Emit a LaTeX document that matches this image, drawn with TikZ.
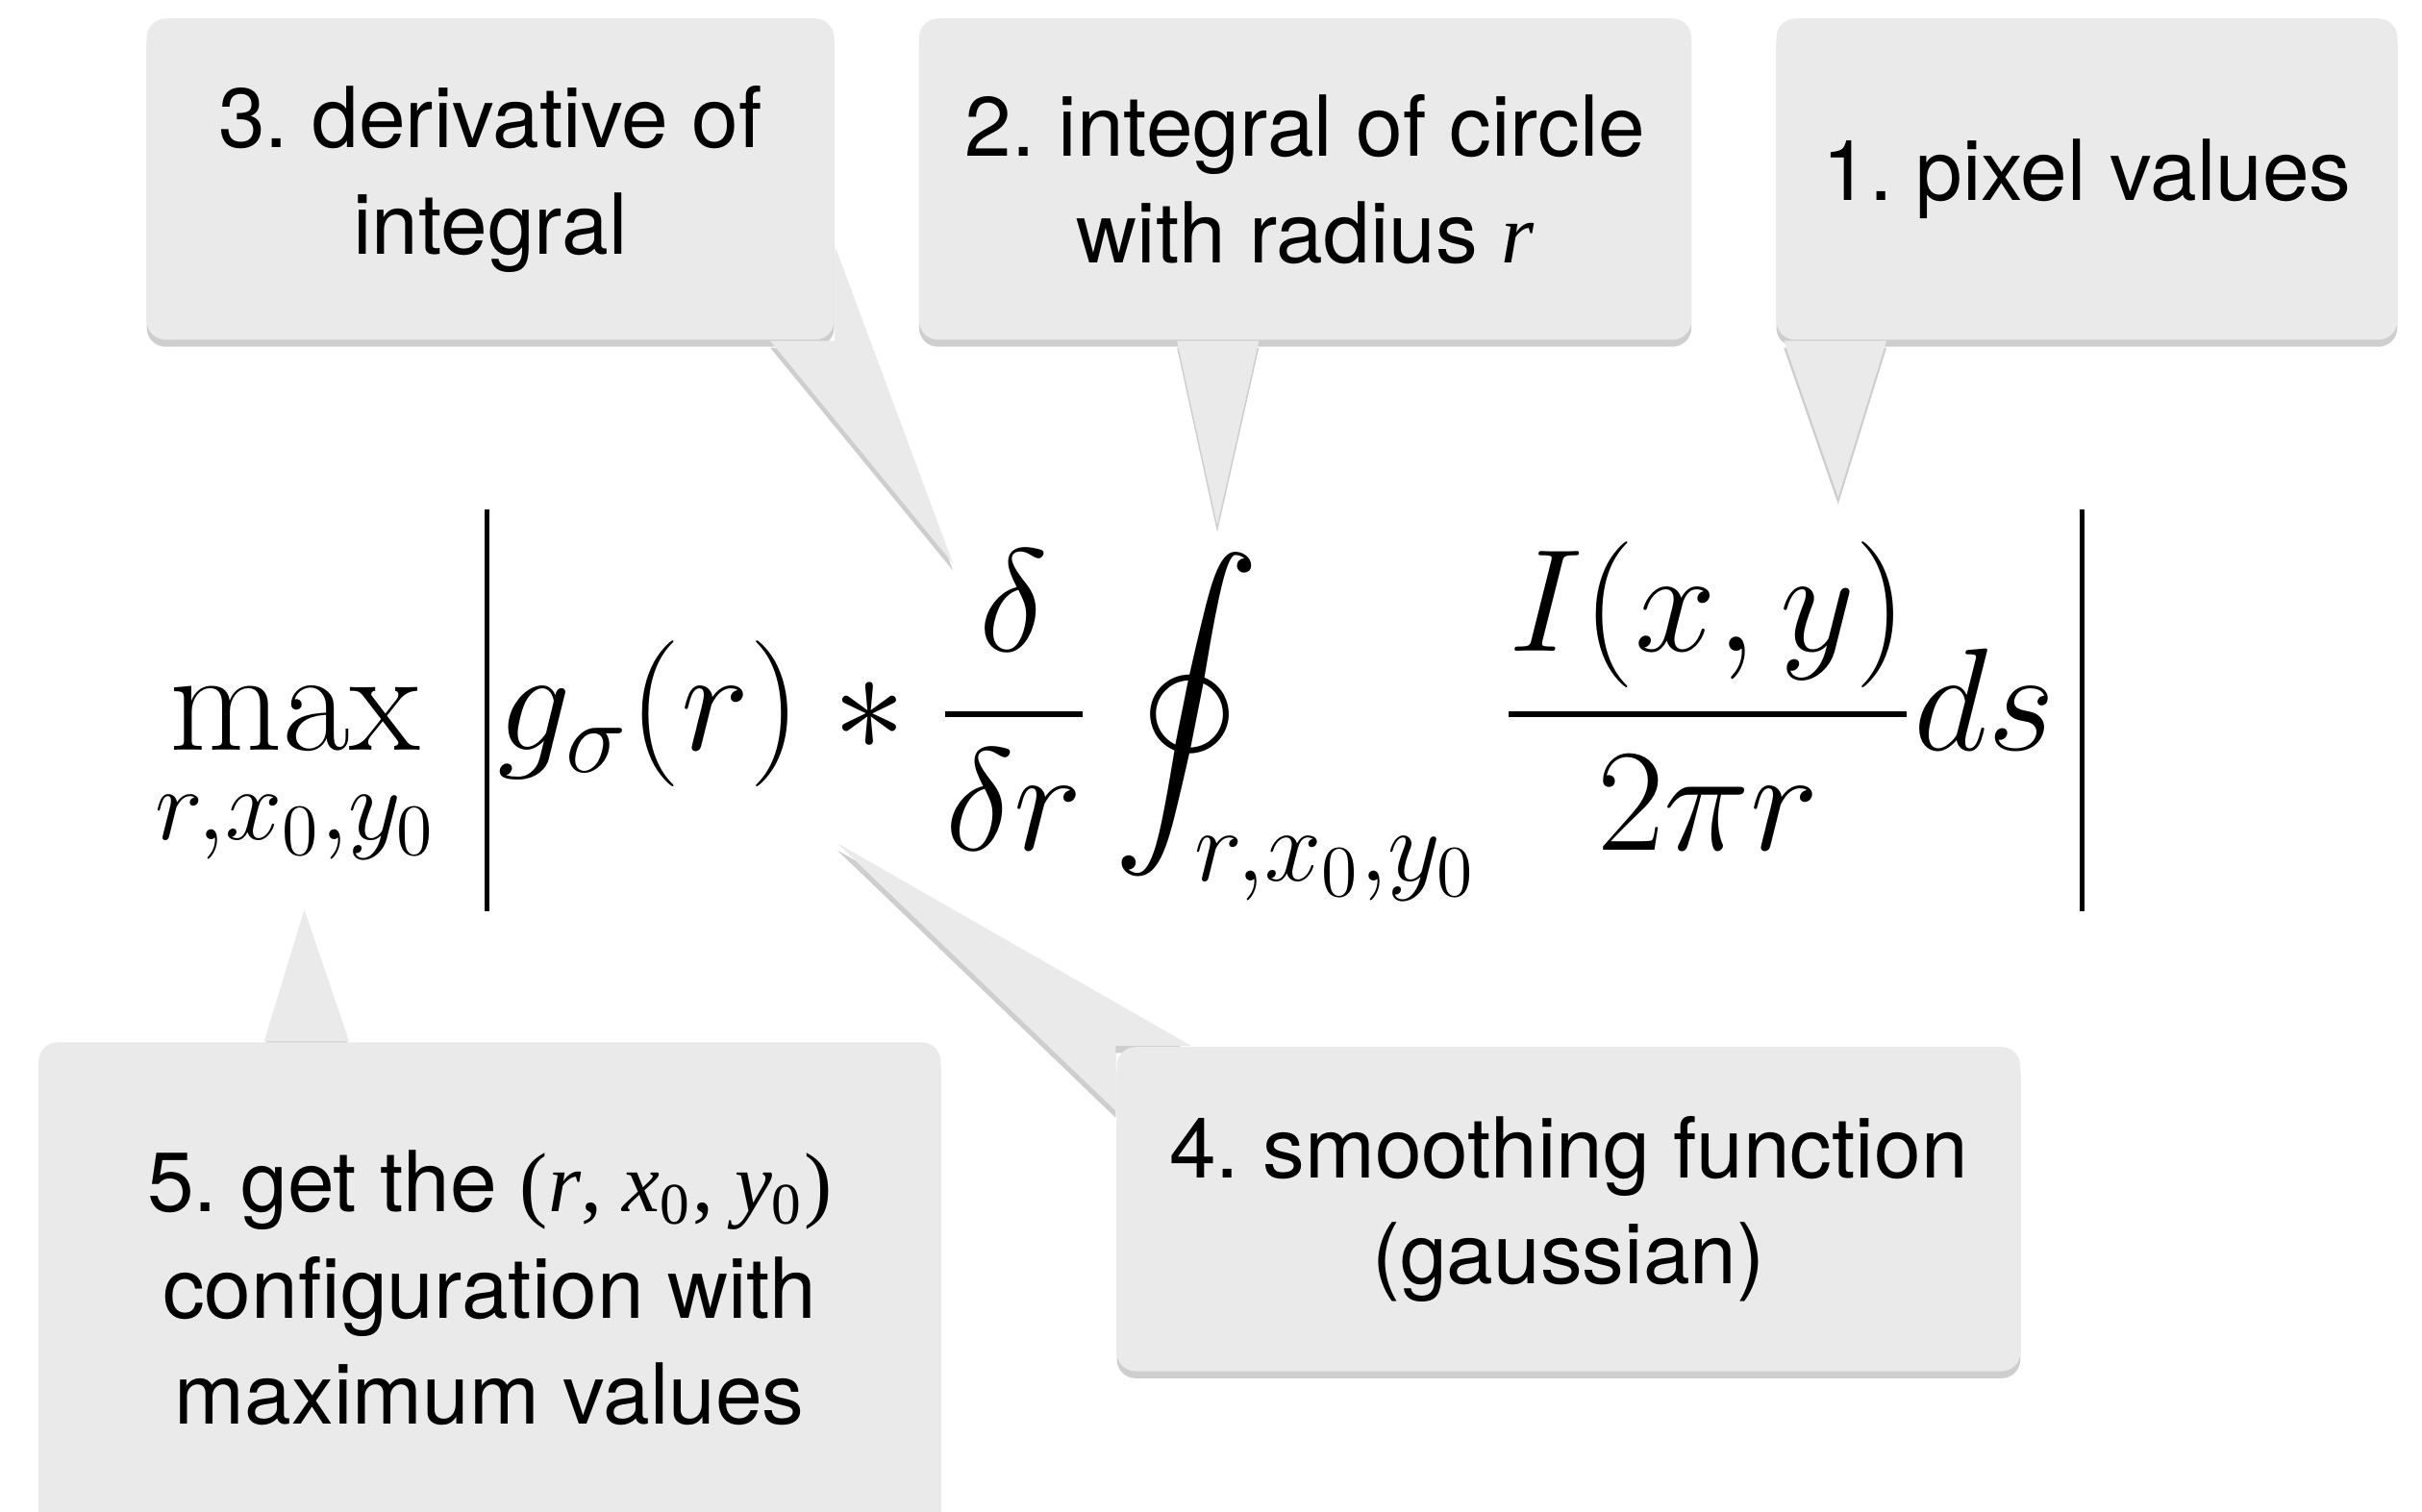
\RequirePackage{fix-cm}
\documentclass[tikz,border=0pt]{standalone}
\usepackage{amsmath,amssymb}
\usepackage{fontspec}
\usepackage{tikz}
\usetikzlibrary{calc,shadows,backgrounds}
\newfontfamily\calloutfont{TeX Gyre Heros}
\newfontfamily\varfont{Liberation Serif}
\newcommand{\cvar}[1]{{\varfont\itshape #1}}
\newcommand{\absbar}{\mathord{\vrule width 0.95pt height 1.56cm depth 1.04cm}}
\definecolor{bubblegray}{RGB}{234,234,234}
\tikzset{
  softshadow/.style={drop shadow={shadow xshift=0pt,shadow yshift=-1.3pt,opacity=0.35,fill=black!55}},
  bubble/.style={fill=bubblegray,softshadow,rounded corners=3.5pt,inner sep=4pt,align=center,
                 font=\calloutfont\fontsize{15.5}{19.6}\selectfont\frenchspacing},
  tail/.style={fill=bubblegray,softshadow},
  formula/.style={inner sep=0pt,font=\fontsize{26.9}{31}\selectfont},
}

\begin{document}
\begin{tikzpicture}[x=1cm,y=1cm]
  \path[use as bounding box] (0,0) rectangle (15.68,9.79);

  \node[formula] (eq) at (7.25,5.19)
    {$\displaystyle \max_{r,x_0,y_0}\mkern3mu\absbar\mkern1mu g_\sigma(r)*\frac{\delta}{\delta r}\oint_{r,x_0,y_0}\frac{I(x,y)}{2\pi r}ds\mkern3mu\absbar$};

  \coordinate (tip1) at (11.90,6.57);
  \coordinate (tip2) at (7.88,6.39);
  \coordinate (tip3) at (6.17,6.14);
  \coordinate (tip4) at (5.42,4.33);
  \coordinate (tip5) at (1.97,3.90);

  \node[bubble,minimum width=4.45cm,minimum height=2.08cm] (deriv) at (3.175,8.63)
    {3. derivative of\\integral};
  \node[bubble,minimum width=5.00cm,minimum height=2.08cm] (circint) at (8.45,8.63)
    {2. integral of circle\\with radius \cvar{r}};
  \node[bubble,minimum width=4.02cm,minimum height=2.08cm] (pixel) at (13.51,8.63)
    {1. pixel values};
  \node[bubble,minimum width=5.85cm,minimum height=2.10cm] (smooth) at (10.155,1.96)
    {4. smoothing function\\(gaussian)};
  \node[bubble,minimum width=5.84cm,minimum height=3.18cm] (argmax) at (3.17,1.45)
    {5. get the {\varfont(\textit{r}, \textit{x}\textsubscript{0}, \textit{y}\textsubscript{0})}\\configuration with\\maximum values};

  \fill[tail] ($(pixel.south west)+(0.055,0)$) -- (tip1) -- ($(pixel.south west)+(0.72,0)$) -- cycle;
  \fill[tail] ($(circint.south)+(-0.83,0)$) -- (tip2) -- ($(circint.south)+(-0.30,0)$) -- cycle;
  \fill[tail] ($(deriv.south east)+(-0.42,0)$) -- (tip3) -- ($(deriv.south east)+(0,0.61)$)
    -- (deriv.south east) -- cycle;
  \begin{scope}[on background layer]
    \fill[tail] ($(smooth.north west)+(0.49,0)$) -- (tip4) -- ($(smooth.north west)+(0,-0.42)$)
      -- (smooth.north west) -- cycle;
    \fill[tail] ($(argmax.north)+(-1.46,0)$) -- (tip5) -- ($(argmax.north)+(-0.91,0)$) -- cycle;
  \end{scope}
\end{tikzpicture}
\end{document}
